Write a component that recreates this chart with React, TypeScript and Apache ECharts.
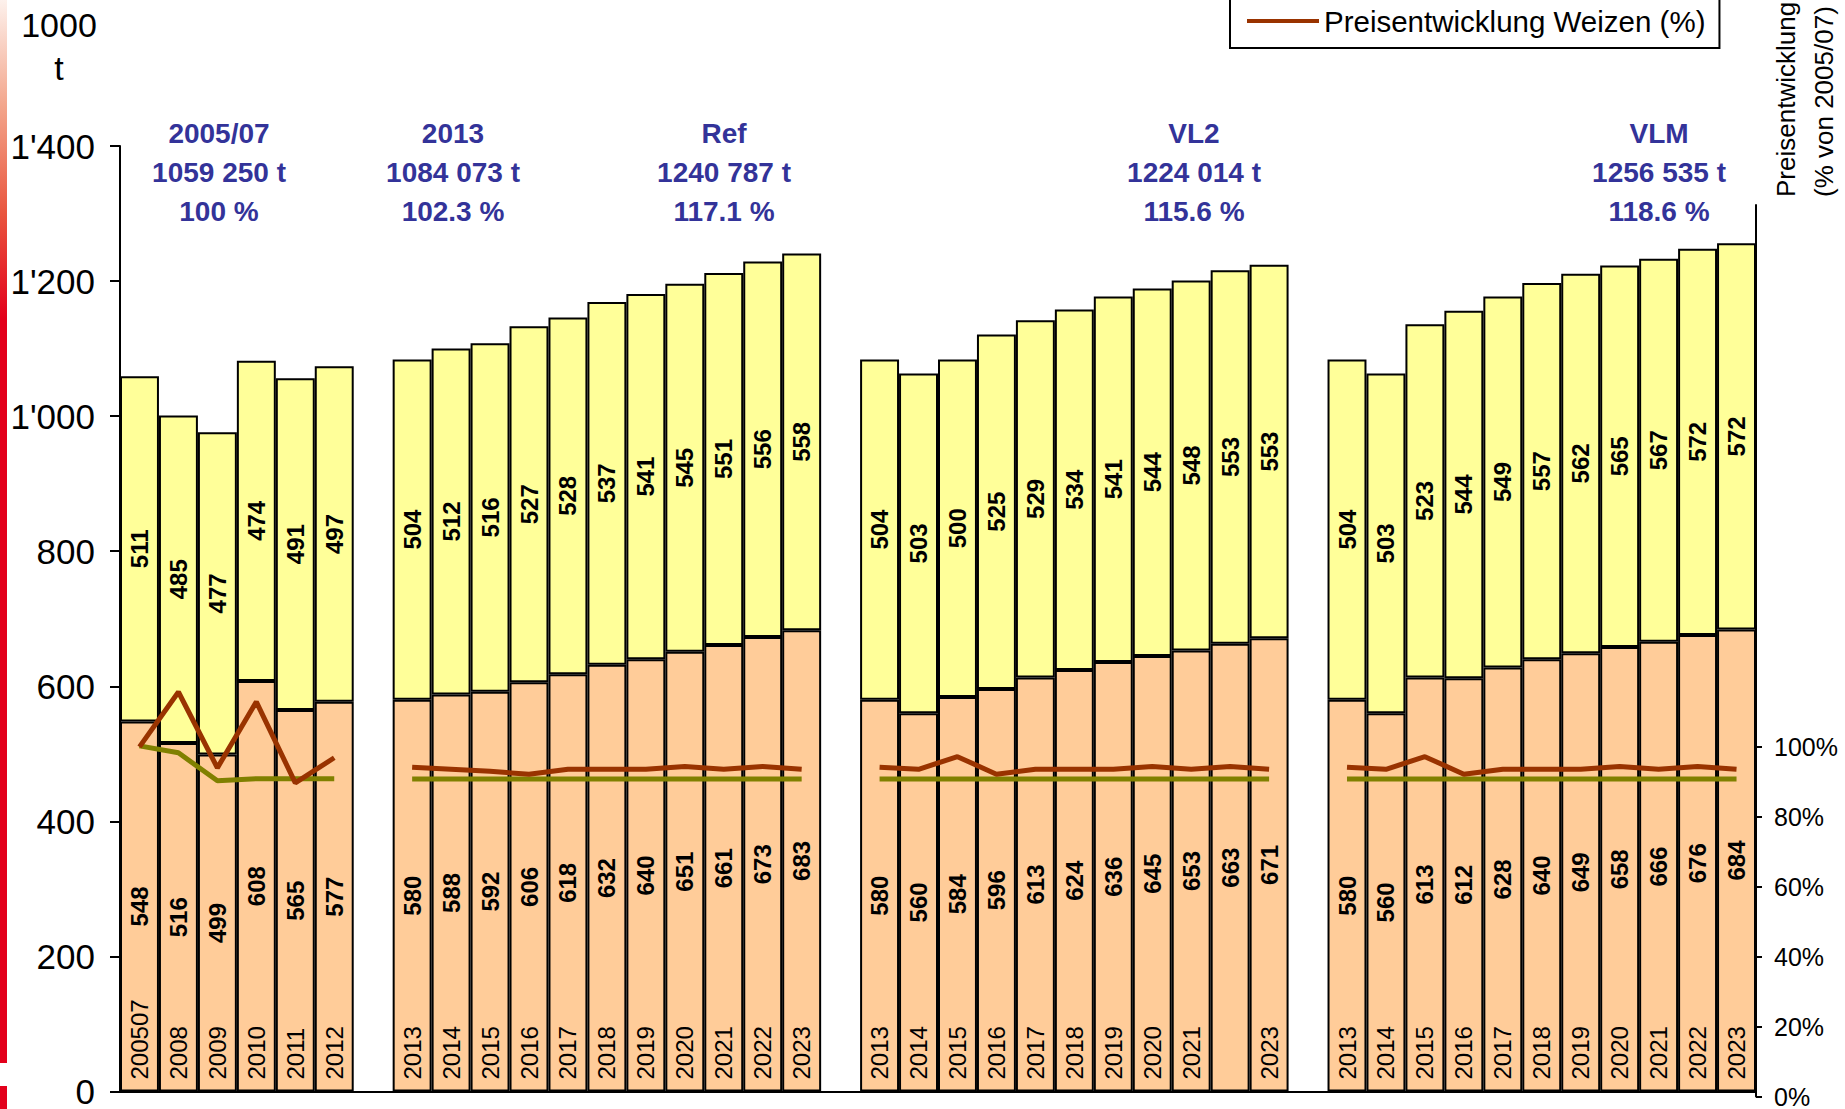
import React, { useEffect, useRef } from "react";
import * as echarts from "echarts";

// ---- data ----
const baseYears = ["200507", "2008", "2009", "2010", "2011", "2012"];
const refYears = ["2013", "2014", "2015", "2016", "2017", "2018", "2019", "2020", "2021", "2022", "2023"];
const vl2Years = ["2013", "2014", "2015", "2016", "2017", "2018", "2019", "2020", "2021", "", "2023"];
const vlmYears = ["2013", "2014", "2015", "2016", "2017", "2018", "2019", "2020", "2021", "2022", "2023"];

const baseLower = [548, 516, 499, 608, 565, 577];
const baseUpper = [511, 485, 477, 474, 491, 497];
const refLower = [580, 588, 592, 606, 618, 632, 640, 651, 661, 673, 683];
const refUpper = [504, 512, 516, 527, 528, 537, 541, 545, 551, 556, 558];
const vl2Lower = [580, 560, 584, 596, 613, 624, 636, 645, 653, 663, 671];
const vl2Upper = [504, 503, 500, 525, 529, 534, 541, 544, 548, 553, 553];
const vlmLower = [580, 560, 613, 612, 628, 640, 649, 658, 666, 676, 684];
const vlmUpper = [504, 503, 523, 544, 549, 557, 562, 565, 567, 572, 572];

const baseWheat = [100, 115.7, 94, 112.9, 89.7, 96.9];
const refWheat = [94.2, 93.6, 93.0, 92.2, 93.6, 93.6, 93.6, 94.4, 93.6, 94.4, 93.6];
const vl2Wheat = [94.2, 93.6, 97.2, 92.2, 93.6, 93.6, 93.6, 94.4, 93.6, 94.4, 93.6];
const vlmWheat = [94.2, 93.6, 97.2, 92.2, 93.6, 93.6, 93.6, 94.4, 93.6, 94.4, 93.6];

const baseOther = [100.3, 98.3, 90.3, 90.9, 90.9, 90.9];
const refOther = [90.8, 90.8, 90.8, 90.8, 90.8, 90.8, 90.8, 90.8, 90.8, 90.8, 90.8];
const vl2Other = [90.8, 90.8, 90.8, 90.8, 90.8, 90.8, 90.8, 90.8, 90.8, 90.8, 90.8];
const vlmOther = [90.8, 90.8, 90.8, 90.8, 90.8, 90.8, 90.8, 90.8, 90.8, 90.8, 90.8];

const groupNames = ["2005/07", "2013", "Ref", "VL2", "VLM"];
const groupTotals = ["1059 250 t", "1084 073 t", "1240 787 t", "1224 014 t", "1256 535 t"];
const groupShares = ["100 %", "102.3 %", "117.1 %", "115.6 %", "118.6 %"];

const leftTicks = [0, 200, 400, 600, 800, 1000, 1200, 1400];
const rightTicks = [0, 20, 40, 60, 80, 100];

const wheatName = "Preisentwicklung Weizen (%)";
const otherName = "Preisentwicklung (%)";

// ---- layout (pixels) ----
const groupLabelX = [219, 453, 724, 1194, 1659];
const FONT = '"Liberation Sans", Arial, sans-serif';

const join = (a: any[], b: any[], c: any[], d: any[], sep: any) => [...a, sep, ...b, sep, ...c, sep, ...d];

export default function App() {
  const ref = useRef<HTMLDivElement>(null);
  useEffect(() => {
    if (!ref.current) return;
    const chart = echarts.init(ref.current, null, { renderer: "svg" });
    const categories = join(baseYears, refYears, vl2Years, vlmYears, "");
    const lower = join(baseLower, refLower, vl2Lower, vlmLower, null);
    const upper = join(baseUpper, refUpper, vl2Upper, vlmUpper, null);
    const wheat = join(baseWheat, refWheat, vl2Wheat, vlmWheat, null);
    const other = join(baseOther, refOther, vl2Other, vlmOther, null);

    const barLabel = {
      show: true,
      position: "inside",
      rotate: 90,
      fontSize: 24,
      fontWeight: "bold",
      color: "#000",
      fontFamily: FONT,
    };

    const groupTexts = groupNames.map((n, i) => ({
      type: "text",
      x: groupLabelX[i],
      y: 172,
      style: {
        text: `${n}\n${groupTotals[i]}\n${groupShares[i]}`,
        fill: "#333399",
        font: `bold 28px ${FONT}`,
        fontSize: 28,
        fontWeight: "bold",
        fontFamily: FONT,
        lineHeight: 39,
        textAlign: "center",
        align: "center",
        textVerticalAlign: "middle",
        verticalAlign: "middle",
      },
    }));

    chart.setOption({
      animation: false,
      textStyle: { fontFamily: FONT },
      legend: {
        data: [{ name: wheatName, icon: "rect" }],
        left: 1230,
        top: -8,
        padding: [14, 14, 12, 17],
        borderColor: "#000",
        borderWidth: 2,
        itemWidth: 72,
        itemHeight: 4,
        selectedMode: false,
        textStyle: { fontSize: 29.5, color: "#000", fontFamily: FONT },
      },
      grid: [
        { left: 120, right: 89, top: 146, bottom: 12 },
        { left: 120, right: 89, top: 205, bottom: 12 },
      ],
      xAxis: [
        {
          type: "category",
          gridIndex: 0,
          data: categories,
          z: 10,
          axisLine: { lineStyle: { color: "#000", width: 2 } },
          axisTick: { show: false },
          axisLabel: {
            inside: true,
            rotate: 90,
            interval: 0,
            margin: 12,
            fontSize: 24,
            color: "#000",
            fontFamily: FONT,
          },
        },
        { type: "category", gridIndex: 1, data: categories, show: false },
      ],
      yAxis: [
        {
          type: "value",
          gridIndex: 0,
          min: 0,
          max: 1400,
          interval: 200,
          splitLine: { show: false },
          axisLine: { show: true, lineStyle: { color: "#000", width: 2 } },
          axisTick: { show: true, length: 10, lineStyle: { color: "#000", width: 2 } },
          axisLabel: {
            margin: 25,
            fontSize: 35,
            color: "#000",
            fontFamily: FONT,
            customValues: leftTicks,
            formatter: (v: number) => (v >= 1000 ? `${Math.floor(v / 1000)}'${String(v % 1000).padStart(3, "0")}` : `${v}`),
          },
        },
        {
          type: "value",
          gridIndex: 1,
          position: "right",
          min: 0,
          max: 255,
          interval: 20,
          splitLine: { show: false },
          axisLine: { show: true, lineStyle: { color: "#000", width: 2 } },
          axisTick: { show: true, length: 6, customValues: rightTicks, lineStyle: { color: "#000", width: 2 } },
          axisLabel: {
            margin: 18,
            fontSize: 25,
            color: "#000",
            fontFamily: FONT,
            customValues: rightTicks,
            formatter: (v: number) => (v <= 100 ? `${v}%` : ""),
          },
        },
      ],
      series: [
        {
          name: "unten",
          type: "bar",
          stack: "t",
          xAxisIndex: 0,
          yAxisIndex: 0,
          barCategoryGap: "0%",
          data: lower,
          itemStyle: { color: "#FFCC99", borderColor: "#000", borderWidth: 2 },
          label: barLabel,
        },
        {
          name: "oben",
          type: "bar",
          stack: "t",
          xAxisIndex: 0,
          yAxisIndex: 0,
          barCategoryGap: "0%",
          data: upper,
          itemStyle: { color: "#FFFF99", borderColor: "#000", borderWidth: 2 },
          label: barLabel,
        },
        {
          name: otherName,
          type: "line",
          xAxisIndex: 1,
          yAxisIndex: 1,
          data: other,
          symbol: "none",
          connectNulls: false,
          lineStyle: { color: "#808000", width: 5 },
          itemStyle: { color: "#808000" },
          z: 5,
        },
        {
          name: wheatName,
          type: "line",
          xAxisIndex: 1,
          yAxisIndex: 1,
          data: wheat,
          symbol: "none",
          connectNulls: false,
          lineStyle: { color: "#993300", width: 5 },
          itemStyle: { color: "#993300" },
          z: 6,
        },
      ],
      graphic: [
        {
          type: "rect",
          shape: { x: 0, y: 0, width: 7, height: 1063 },
          style: {
            fill: new echarts.graphic.LinearGradient(0, 0, 0, 1, [
              { offset: 0, color: "#FDF1EC" },
              { offset: 0.1, color: "#F3A58B" },
              { offset: 0.2, color: "#E9563F" },
              { offset: 0.3, color: "#E3001B" },
              { offset: 1, color: "#E3001B" },
            ]),
          },
        },
        { type: "rect", shape: { x: 0, y: 1086, width: 7, height: 23 }, style: { fill: "#E3001B" } },
        {
          type: "text",
          x: 59,
          y: 46,
          style: {
            text: "1000\nt",
            fill: "#000",
            font: `34px ${FONT}`,
            fontSize: 34,
            fontFamily: FONT,
            lineHeight: 43,
            textAlign: "center",
            align: "center",
            textVerticalAlign: "middle",
            verticalAlign: "middle",
          },
        },
        {
          type: "text",
          x: 1805,
          y: 197,
          rotation: Math.PI / 2,
          style: {
            text: "Preisentwicklung\n(% von 2005/07)",
            fill: "#000",
            font: `26px ${FONT}`,
            fontSize: 26,
            fontFamily: FONT,
            lineHeight: 38,
            textAlign: "left",
            align: "left",
            textVerticalAlign: "middle",
            verticalAlign: "middle",
          },
        },
        ...groupTexts,
      ],
    });
    return () => chart.dispose();
  }, []);
  return <div ref={ref} style={{ position: "absolute", left: 0, top: 0, width: 1845, height: 1109 }} />;
}
